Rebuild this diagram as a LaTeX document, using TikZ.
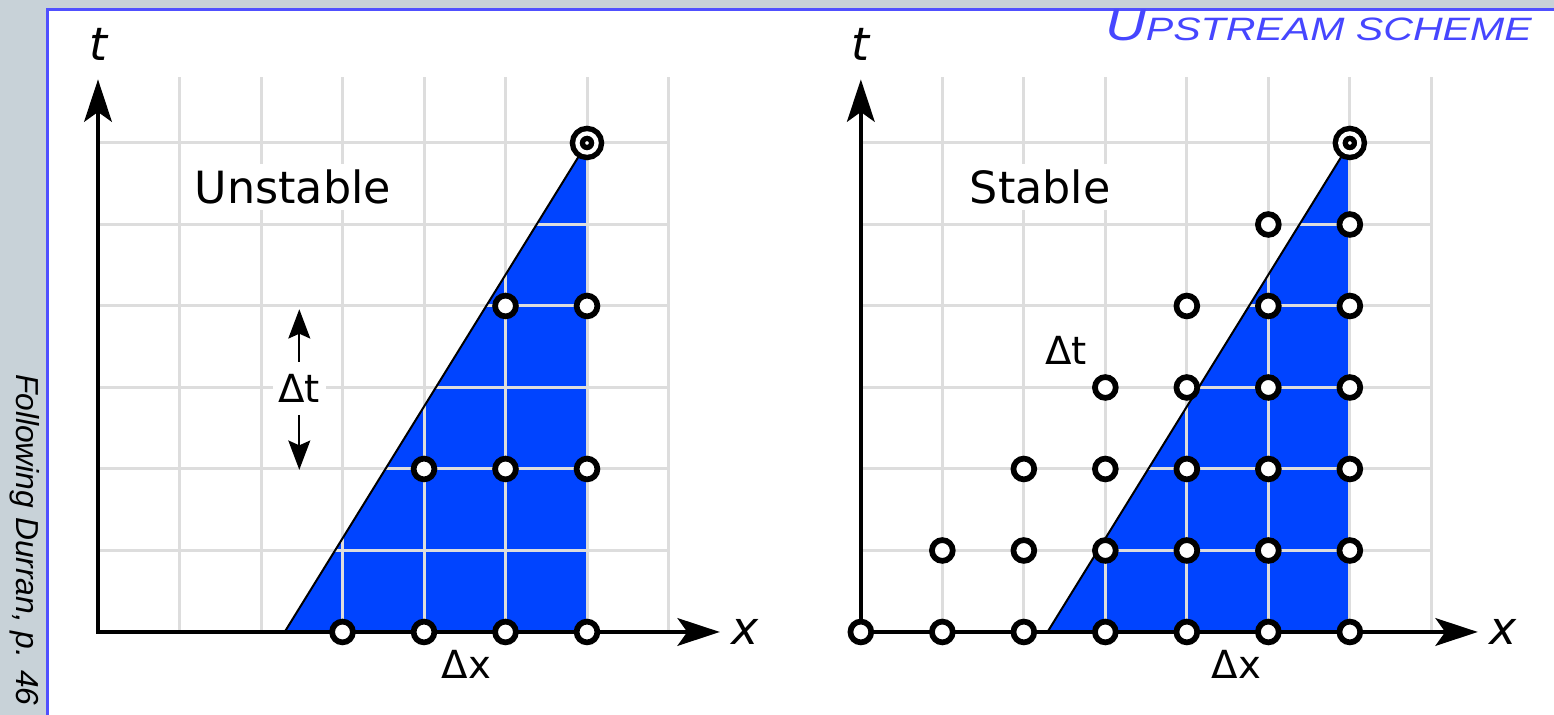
\documentclass[tikz,border=0pt]{standalone}
\usepackage{fontspec}
\setmainfont{DejaVu Sans}
\newfontfamily\helv{Liberation Sans}
\usetikzlibrary{arrows.meta, positioning}
\definecolor{stripgray}{HTML}{C8D2D8}
\definecolor{frameblue}{HTML}{5050FF}
\definecolor{titleblue}{HTML}{4646FF}
\definecolor{cflblue}{HTML}{0044FF}
\definecolor{gridgray}{HTML}{DDDDDD}

\begin{document}
\begin{tikzpicture}[
    gridline/.style={gridgray, line width=1.05pt},
    axis/.style={{Stealth[length=0.52cm, width=0.34cm, inset=0.12cm]}-{Stealth[length=0.52cm, width=0.34cm, inset=0.12cm]}, line width=1.2pt},
    dtarr/.style={-{Stealth[length=0.36cm, width=0.27cm, inset=0.06cm]}, line width=0.6pt},
    pt/.style={circle, draw, fill=white, line width=2pt, minimum size=0.255cm, inner sep=0pt},
    apex/.style={circle, draw, double, fill=white, line width=1.9pt, double distance=1.5pt, minimum size=0.235cm, inner sep=0pt},
    lbl/.style={font=\fontsize{15.5}{18}\selectfont, fill=white, inner sep=2pt},
    delta/.style={font=\fontsize{13.5}{16}\selectfont, fill=white, inner xsep=2pt, inner ysep=4.2pt},
    axlbl/.style={font=\fontsize{16}{19}\selectfont\itshape},
]

% Frame
\useasboundingbox (-1.2025,-1.0184) rectangle (17.865,7.7546);
\fill[white] (-1.2025,-1.0184) rectangle (17.865,7.7546);
\fill[stripgray] (-1.2025,-1.0184) rectangle (-0.6196,7.7546);
\fill[stripgray] (-1.2025,7.638) rectangle (17.865,7.7546);
\draw[frameblue, line width=1.05pt] (-0.6196,-1.0184) -- (-0.6196,7.638) -- (17.865,7.638);

% Title and source
\node[anchor=base east, text=titleblue, font=\helv\itshape, inner sep=0pt] (title) at (17.6,7.26)
    {\scalebox{1.27}[1]{{\fontsize{15.5}{15}\selectfont U}{\fontsize{11.3}{11}\selectfont PSTREAM SCHEME}}};
\node[rotate=-90, font=\helv\itshape\fontsize{11.1}{13}\selectfont] (source) at (-0.9,1.13) {Following Durran, p. 46};

% Left panel: unstable
\coordinate (l-foot) at (2.29,0);
\coordinate (l-top) at (6,6);
\coordinate (l-base) at (6,0);
\fill[cflblue] (l-foot) -- (l-top) -- (l-base) -- cycle;
\foreach \i in {1,...,7} \draw[gridline] (\i,0) -- (\i,6.81);
\foreach \j in {1,...,6} \draw[gridline] (0,\j) -- (7,\j);
\draw[line width=0.7pt] (l-foot) -- (l-top);

\coordinate (l-tend) at (0,6.78);
\coordinate (l-xend) at (7.63,0);
\draw[axis] (l-tend) |- (l-xend);
\node[axlbl] (l-t) at (0,7.21) {t};
\node[axlbl] (l-x) at (7.94,0) {x};

\node[lbl] (l-name) at (2.39,5.46) {Unstable};
\node[delta] (l-dt) at (2.47,2.99) {Δt};
\coordinate (l-dtup) at (2.47,3.96);
\coordinate (l-dtdn) at (2.47,1.99);
\draw[dtarr] (l-dt) -- (l-dtup);
\draw[dtarr] (l-dt) -- (l-dtdn);
\node[delta] (l-dx) at (4.52,-0.40) {Δx};

\foreach \i in {3,...,6} \node[pt] (l-\i-0) at (\i,0) {};
\foreach \i in {4,...,6} \node[pt] (l-\i-2) at (\i,2) {};
\foreach \i in {5,6} \node[pt] (l-\i-4) at (\i,4) {};
\node[apex] (l-apex) at (6,6) {};

% Right panel: stable
\begin{scope}[xshift=9.36cm]
\coordinate (r-foot) at (2.29,0);
\coordinate (r-top) at (6,6);
\coordinate (r-base) at (6,0);
\fill[cflblue] (r-foot) -- (r-top) -- (r-base) -- cycle;
\foreach \i in {1,...,7} \draw[gridline] (\i,0) -- (\i,6.81);
\foreach \j in {1,...,6} \draw[gridline] (0,\j) -- (7,\j);
\draw[line width=0.7pt] (r-foot) -- (r-top);

\coordinate (r-tend) at (0,6.78);
\coordinate (r-xend) at (7.57,0);
\draw[axis] (r-tend) |- (r-xend);
\node[axlbl] (r-t) at (0,7.21) {t};
\node[axlbl] (r-x) at (7.88,0) {x};

\node[lbl] (r-name) at (2.2,5.46) {Stable};
\node[delta] (r-dt) at (2.52,3.46) {Δt};
\node[delta] (r-dx) at (4.61,-0.40) {Δx};

\foreach \j in {0,...,5}
    \foreach \i in {\j,...,6} \node[pt] (r-\i-\j) at (\i,\j) {};
\node[apex] (r-apex) at (6,6) {};
\end{scope}

\end{tikzpicture}
\end{document}
